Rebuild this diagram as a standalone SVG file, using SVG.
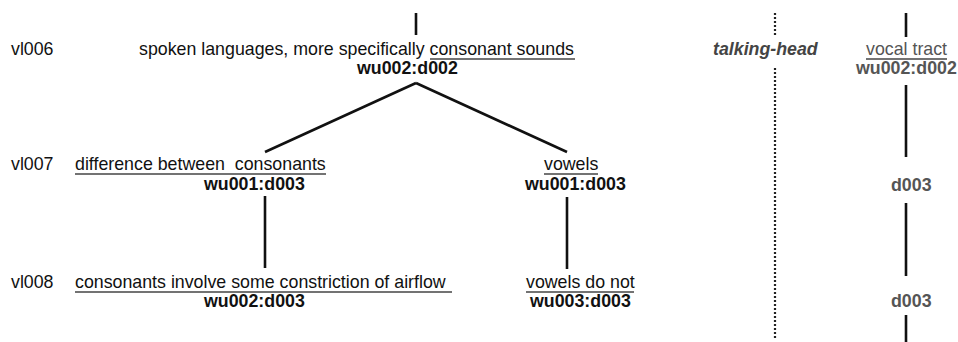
<svg xmlns="http://www.w3.org/2000/svg" width="958" height="342" viewBox="0 0 958 342">
<style>
  .t{font-family:"Liberation Sans",Arial,sans-serif;font-size:17.8px;fill:#111}
  .b{font-weight:bold}
  .g{fill:#555}
  .it{font-style:italic;font-weight:bold;fill:#444}
  .ul{stroke:#444;stroke-width:1.4}
  .ln{stroke:#111;stroke-width:2.6;fill:none}
  .dot{stroke:#222;stroke-width:2.2;stroke-dasharray:2 2;fill:none}
</style>
<rect width="958" height="342" fill="#fff"/>
<g id="labels">
  <text class="t" x="11" y="55">vl006</text>
  <text class="t" x="11" y="170">vl007</text>
  <text class="t" x="11" y="288">vl008</text>
</g>
<g id="n-root">
  <text class="t" x="139" y="55">spoken languages, more specifically consonant sounds</text>
  <line class="ul" x1="430" y1="59" x2="575" y2="59"/>
  <text class="t b" x="357" y="74">wu002:d002</text>
</g>
<g id="n-diff">
  <text class="t" x="75" y="170" xml:space="preserve">difference between  consonants</text>
  <line class="ul" x1="75" y1="174" x2="326" y2="174"/>
  <text class="t b" x="204" y="190">wu001:d003</text>
</g>
<g id="n-vowels">
  <text class="t" x="544" y="170">vowels</text>
  <line class="ul" x1="544" y1="174" x2="598" y2="174"/>
  <text class="t b" x="525" y="190">wu001:d003</text>
</g>
<g id="n-constr">
  <text class="t" x="75" y="288">consonants involve some constriction of airflow</text>
  <line class="ul" x1="75" y1="292" x2="452" y2="292"/>
  <text class="t b" x="204" y="307">wu002:d003</text>
</g>
<g id="n-vowelsnot">
  <text class="t" x="526" y="288">vowels do not</text>
  <line class="ul" x1="526" y1="292" x2="634" y2="292"/>
  <text class="t b" x="530" y="307">wu003:d003</text>
</g>
<g id="n-talking">
  <text class="t it" x="713" y="55">talking-head</text>
</g>
<g id="n-vocal">
  <text class="t g" x="866" y="55">vocal tract</text>
  <line class="ul" x1="866" y1="59" x2="947" y2="59"/>
  <text class="t b g" x="856" y="74">wu002:d002</text>
</g>
<g id="n-d003a">
  <text class="t b g" x="891" y="191">d003</text>
</g>
<g id="n-d003b">
  <text class="t b g" x="891" y="307">d003</text>
</g>
<g id="connectors">
  <line class="ln" x1="416" y1="13" x2="416" y2="35"/>
  <line class="ln" x1="416" y1="83" x2="265" y2="152"/>
  <line class="ln" x1="416" y1="83" x2="567" y2="152"/>
  <line class="ln" x1="265" y1="196" x2="265" y2="268"/>
  <line class="ln" x1="567" y1="197" x2="567" y2="269"/>
  <line class="dot" x1="775" y1="13" x2="775" y2="35"/>
  <line class="dot" x1="775" y1="68" x2="775" y2="340"/>
  <line class="ln" x1="906" y1="13" x2="906" y2="37"/>
  <line class="ln" x1="906" y1="85" x2="906" y2="157"/>
  <line class="ln" x1="906" y1="203" x2="906" y2="276"/>
  <line class="ln" x1="906" y1="315" x2="906" y2="342"/>
</g>
</svg>
